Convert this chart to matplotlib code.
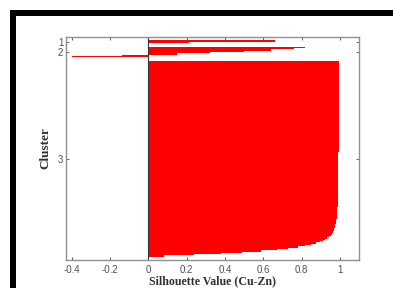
import matplotlib
matplotlib.use("Agg")
import matplotlib.pyplot as plt
from matplotlib.patches import Rectangle

# silhouette values per cluster, top to bottom as drawn
cluster1 = [0.66, 0.21]
cluster2 = [0.82, 0.76, 0.64, 0.50, 0.32, 0.15, -0.14, -0.40]
cluster3 = [
    0.996, 0.996, 0.996, 0.996, 0.996, 0.996, 0.996, 0.996, 0.996, 0.996, 0.996, 0.996, 0.996, 0.996,
    0.995, 0.995, 0.995, 0.995, 0.995, 0.995, 0.995, 0.995, 0.995, 0.995, 0.995, 0.995, 0.995, 0.995,
    0.995, 0.995, 0.995, 0.995, 0.995, 0.995, 0.995, 0.995, 0.995, 0.995, 0.995, 0.995, 0.995, 0.995,
    0.994, 0.994, 0.994, 0.994, 0.994, 0.994, 0.994, 0.994, 0.994, 0.994, 0.994, 0.994, 0.994, 0.994,
    0.993, 0.993, 0.993, 0.993, 0.993, 0.993, 0.993, 0.993, 0.993, 0.993, 0.993, 0.993, 0.993, 0.993,
    0.992, 0.992, 0.992, 0.992, 0.992, 0.992, 0.992, 0.992, 0.992, 0.992, 0.992, 0.992, 0.992, 0.992,
    0.991, 0.991, 0.991, 0.991, 0.991, 0.991, 0.991, 0.991, 0.991, 0.991, 0.991, 0.991, 0.991, 0.991,
    0.990, 0.990, 0.990, 0.990, 0.990, 0.990, 0.990, 0.990, 0.989, 0.989, 0.989, 0.989, 0.988, 0.988,
    0.988, 0.987, 0.987, 0.987, 0.986, 0.986, 0.985, 0.985, 0.984, 0.983, 0.982, 0.981, 0.980, 0.978,
    0.977, 0.975, 0.973, 0.971, 0.968, 0.965, 0.962, 0.958, 0.953, 0.945, 0.935, 0.925, 0.910, 0.895,
    0.875, 0.850, 0.820, 0.780, 0.730, 0.670, 0.590, 0.490, 0.380, 0.240, 0.080,
]
clusters = [cluster1, cluster2, cluster3]
cluster_names = ["1", "2", "3"]

x_ticks = [-0.4, -0.2, 0, 0.2, 0.4, 0.6, 0.8, 1]
x_tick_labels = ["-0.4", "-0.2", "0", "0.2", "0.4", "0.6", "0.8", "1"]

top_margin = 2.5
gap = 3
bottom_margin = 2.5

fig = plt.figure(figsize=(3.93, 2.88), dpi=100)
fig.patch.set_facecolor("white")

# black frame pieces from the surrounding figure
fig.patches.append(Rectangle((10 / 393, 272 / 288), 1, 6 / 288, transform=fig.transFigure,
                             facecolor="black", edgecolor="none"))
fig.patches.append(Rectangle((10 / 393, 0), 6 / 393, 278 / 288, transform=fig.transFigure,
                             facecolor="black", edgecolor="none"))

ax = fig.add_axes([66 / 393, 28 / 288, 293 / 393, 223 / 288])

pos = top_margin
tick_pos = []
for vals in clusters:
    ys = [pos + i + 0.5 for i in range(len(vals))]
    ax.barh(ys, vals, height=1.0, color="#ff0000", edgecolor="none", antialiased=False)
    tick_pos.append(pos + len(vals) / 2)
    pos += len(vals) + gap
pos = pos - gap + bottom_margin

ax.axvline(0, color="#303030", lw=0.8)
ax.set_xlim(-0.43, 1.1)
ax.set_ylim(pos, 0)

ax.set_xticks(x_ticks)
ax.set_xticklabels(x_tick_labels, family="Liberation Sans")
ax.set_yticks(tick_pos)
ax.set_yticklabels(cluster_names, family="Liberation Sans")
ax.tick_params(direction="in", length=2.5, width=0.7, color="#606060", labelcolor="#505050",
               labelsize=7, top=True, right=True)
ax.tick_params(axis="x", pad=3.5)
ax.tick_params(axis="y", pad=2)
for s in ax.spines.values():
    s.set_color("#909090")
    s.set_linewidth(1.0)

ax.set_xlabel("Silhouette Value (Cu-Zn)", family="Liberation Serif", fontweight="bold",
              fontsize=8.6, color="#303030", labelpad=0)
ax.set_ylabel("Cluster", family="Liberation Serif", fontweight="bold",
              fontsize=9.5, color="#303030", labelpad=5)

fig.savefig("out.png", dpi=100)
